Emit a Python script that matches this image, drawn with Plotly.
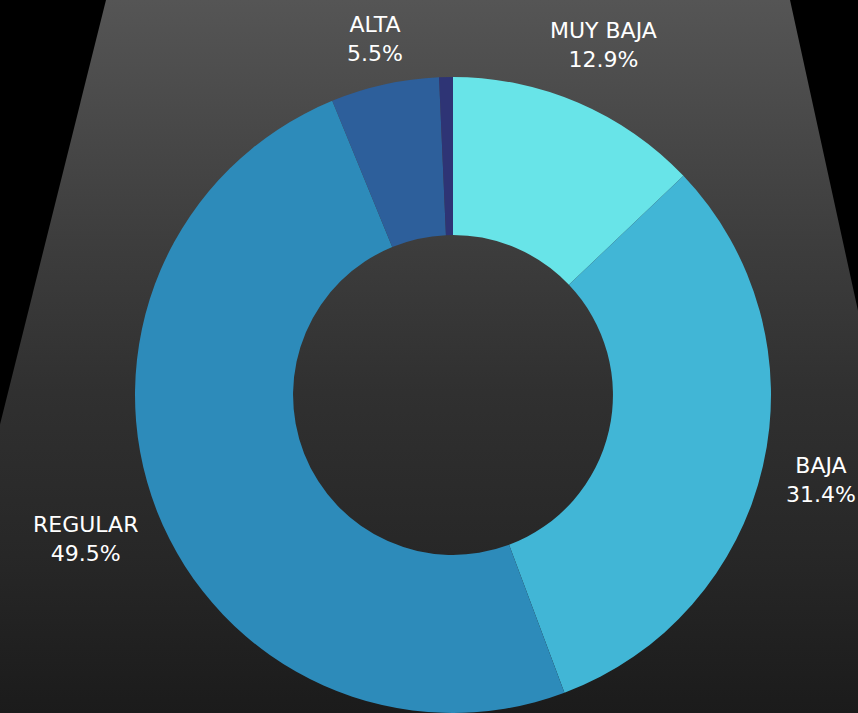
import math
import plotly.graph_objects as go

# Data
labels = ["MUY BAJA", "BAJA", "REGULAR", "ALTA", "MUY ALTA"]
values = [12.9, 31.4, 49.5, 5.5, 0.7]
colors = ["#68e4e8", "#41b6d6", "#2d8bba", "#2d5f9b", "#2e3475"]
show_label = [True, True, True, True, False]

# Decorative background "spotlight" trapezoid (pixel space of the figure)
bg_x = [106, 790, 946, -72, 106]
bg_y = [713, 713, 0, 0, 713]

W, H = 858, 713
CX = 453          # pie centre x (px)
R = 318           # pie outer radius (px); centre sits R px above the bottom edge
HOLE = 0.503
FS = 22           # label font size
GAP = 16          # distance from ring to label box

total = sum(values)

fig = go.Figure()

fig.add_trace(go.Scatter(
    x=bg_x, y=bg_y, mode="lines", line=dict(width=0),
    fill="toself",
    fillgradient=dict(type="vertical", start=0, stop=H,
                      colorscale=[[0, "#1b1b1b"], [0.22, "#272727"], [0.45, "#303030"],
                                  [0.66, "#3d3d3d"], [1, "#555555"]]),
    hoverinfo="skip", showlegend=False,
))

fig.add_trace(go.Pie(
    labels=labels, values=values, sort=False, direction="clockwise", rotation=0,
    hole=HOLE,
    marker=dict(colors=colors, line=dict(width=0)),
    textinfo="none", textposition="none",
    domain=dict(x=[(CX - R) / W, (CX + R) / W], y=[0, 2 * R / H]),
    showlegend=False, hoverinfo="label+percent",
))

# Outside labels, placed on each slice's mid-angle ray
cy = R
cum = 0.0
for lab, v, show in zip(labels, values, show_label):
    mid = (cum + v / 2) / total * 2 * math.pi
    cum += v
    if not show:
        continue
    lines = [lab, f"{v / total * 100:.1f}%"]
    hw = 0.72 * FS * max(len(s) for s in lines) / 2
    hh = 0.55 * FS * len(lines)
    s, c = math.sin(mid), math.cos(mid)
    rc = R + GAP + hw * abs(s) + hh * abs(c)
    fig.add_annotation(
        x=CX + s * rc, y=cy + c * rc, xref="x", yref="y",
        text="<br>".join(lines), showarrow=False,
        xanchor="center", yanchor="middle", align="center",
        font=dict(family="DejaVu Sans, sans-serif", size=FS, color="#ffffff"),
    )

fig.update_layout(
    width=W, height=H,
    margin=dict(l=0, r=0, t=0, b=0),
    paper_bgcolor="#000000", plot_bgcolor="#000000",
    xaxis=dict(range=[0, W], visible=False, fixedrange=True),
    yaxis=dict(range=[0, H], visible=False, fixedrange=True),
    showlegend=False,
)

fig.write_html(
    "out.html",
    config={"displayModeBar": False},
    post_script="document.body.style.margin='0px';document.body.style.overflow='hidden';",
)
